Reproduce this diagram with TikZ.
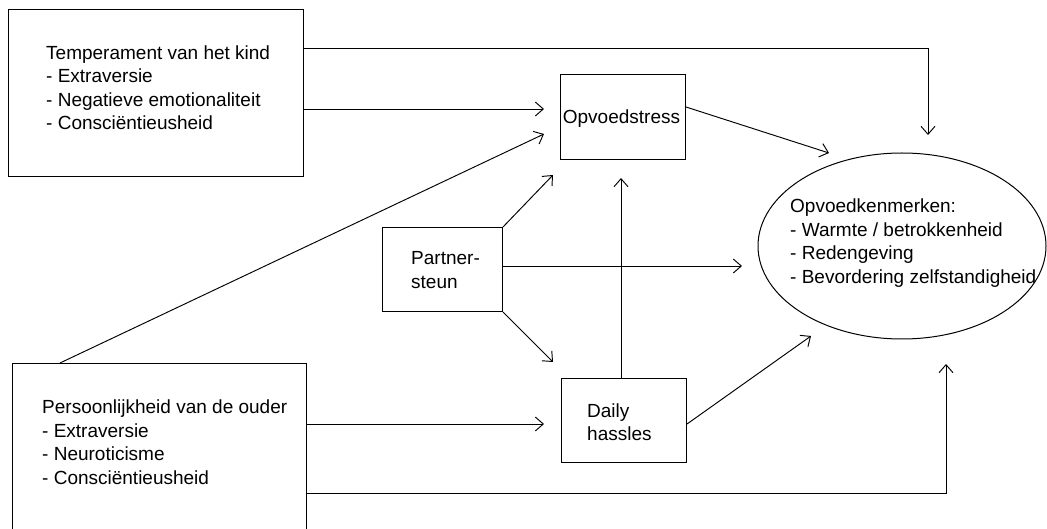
\documentclass[tikz,border=0pt]{standalone}
\usepackage{fontspec}
\setmainfont{Liberation Sans}
\usetikzlibrary{arrows.meta,calc,shapes.geometric}
\begin{document}
\begin{tikzpicture}[x=1pt,y=-1pt,
  box/.style={draw,line width=1pt,rectangle,inner sep=0pt,anchor=north west},
  lbl/.style={inner sep=0pt,anchor=north west,align=left,font=\fontsize{19}{23.5}\selectfont},
  conn/.style={line width=0.95pt,-{Straight Barb[length=8pt,width=14pt,line width=0.95pt]}}]
\useasboundingbox (0,0) rectangle (1047,529);
\clip (0,0) rectangle (1047,529);
\fill[white] (0,0) rectangle (1047,529);
% boxes
\node[box,minimum width=295pt,minimum height=167pt] (temp) at (8,9) {};
\node[box,minimum width=294pt,minimum height=190pt] (pers) at (12,363) {};
\node[box,minimum width=125pt,minimum height=85pt] (stress) at (560,74) {};
\node[box,minimum width=120pt,minimum height=84pt] (partner) at (382,227) {};
\node[box,minimum width=125pt,minimum height=84pt] (daily) at (561,378) {};
\node[draw,ellipse,line width=1pt,inner sep=0pt,minimum width=288pt,minimum height=186pt] (kenm) at (902,246) {};
% texts
\node[lbl] (ttemp) at (46,45.4) {Temperament van het kind\\- Extraversie\\- Negatieve emotionaliteit\\- Consciëntieusheid};
\node[lbl] (tpers) at (42,400) {Persoonlijkheid van de ouder\\- Extraversie\\- Neuroticisme\\- Consciëntieusheid};
\node[lbl,anchor=base] (tstress) at (621.5,123.3) {Opvoedstress};
\node[lbl] (tpartner) at (411,251.4) {Partner-\\steun};
\node[lbl] (tdaily) at (587,403.4) {Daily\\hassles};
\node[lbl] (tkenm) at (790,199) {Opvoedkenmerken:\\- Warmte / betrokkenheid\\- Redengeving\\- Bevordering zelfstandigheid};
% free ends of connectors
\coordinate (e1) at (928,135);
\coordinate (e2) at (544,109);
\coordinate (e3) at (544,134);
\coordinate (e4) at (829,153);
\coordinate (e5) at (553,175);
\coordinate (e6) at (742,266);
\coordinate (e7) at (553,362);
\coordinate (e8) at (621,178);
\coordinate (e9) at (811,336);
\coordinate (e10) at (544,424);
\coordinate (e11) at (946,364);
% connectors
\draw[conn] ($(temp.north east)+(0,39)$) -| (e1);
\draw[conn] (temp.east |- e2) -- (e2);
\draw[conn] ($(pers.north west)+(48,0)$) -- (e3);
\draw[conn] ($(stress.north east)+(0,33)$) -- (e4);
\draw[conn] (partner.north east) -- (e5);
\draw[conn] (partner.east |- e6) -- (e6);
\draw[conn] (partner.south east) -- (e7);
\draw[conn] (daily.north -| e8) -- (e8);
\draw[conn] ($(daily.north east)+(0,46)$) -- (e9);
\draw[conn] (pers.east |- e10) -- (e10);
\draw[conn] ($(pers.north east)+(0,130)$) -| (e11);
\end{tikzpicture}
\end{document}
